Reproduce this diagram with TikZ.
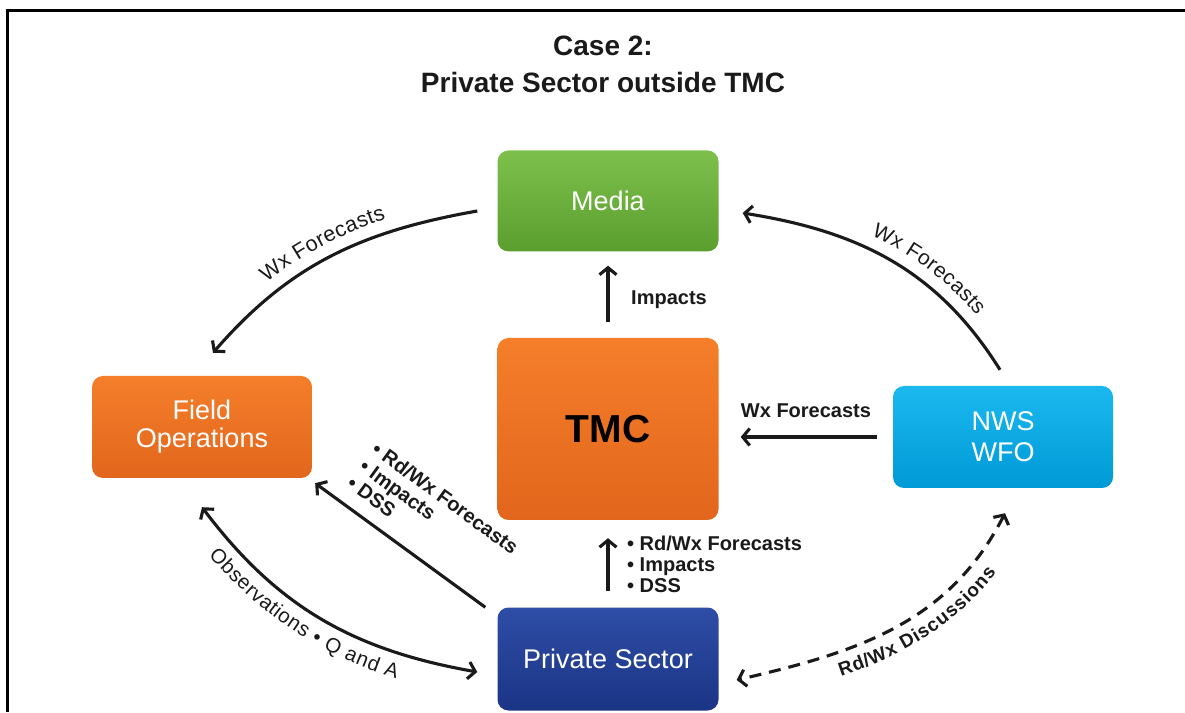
\documentclass[tikz,border=0pt]{standalone}
\usepackage{fontspec}
\setmainfont{Liberation Sans}
\usetikzlibrary{arrows.meta,calc,decorations.text}
\definecolor{grnT}{HTML}{7DC04C}
\definecolor{grnB}{HTML}{5A9E2E}
\definecolor{orgT}{HTML}{F47E2A}
\definecolor{orgB}{HTML}{E2661C}
\definecolor{cyaT}{HTML}{1BB8F0}
\definecolor{cyaB}{HTML}{009AD6}
\definecolor{bluT}{HTML}{2E4DA6}
\definecolor{bluB}{HTML}{1B3585}
\definecolor{txt}{HTML}{1A1A1A}
\begin{document}
\begin{tikzpicture}[x=1pt,y=1pt,
  box/.style={rounded corners=11pt, minimum width=221pt, inner sep=0pt,
    text=white, align=center, font=\fontsize{27}{29}\selectfont},
  tip/.tip={Straight Barb[length=7pt,width=17pt]},
  arr/.style={line width=3.1pt, draw=txt, -tip},
  dbl/.style={line width=3.1pt, draw=txt, tip-tip},
  lbl/.style={text=txt, font=\bfseries\fontsize{20}{21}\selectfont, inner sep=0pt},
  ttl/.style={text=txt, font=\bfseries\fontsize{28}{30}\selectfont},
  curvtxt/.style={decorate, decoration={text along path, text color=txt, #1}}]
\useasboundingbox (0,0) rectangle (1185,712);
\fill[white] (0,0) rectangle (1185,712);
\draw[line width=3pt] (7,0) -- (7,701) -- (1185,701);

% title
\node[ttl] (t1) at (603,666) {Case 2:};
\node[ttl] (t2) at (603,629) {Private Sector outside TMC};

% boxes
\node[box, minimum height=101pt, top color=grnT, bottom color=grnB] (media) at (608,511) {Media};
\node[box, minimum height=182pt, top color=orgT, bottom color=orgB, text=black,
      font=\bfseries\fontsize{39}{41}\selectfont] (tmc) at (608,283) {TMC};
\node[box, minimum width=220pt, minimum height=102pt, top color=orgT, bottom color=orgB,
      font=\fontsize{27}{28}\selectfont] (field) at (202,285) {Field\\Operations};
\node[box, minimum width=220pt, minimum height=102pt, top color=cyaT, bottom color=cyaB,
      font=\fontsize{27}{31}\selectfont] (nws) at (1003,275) {NWS\\WFO};
\node[box, minimum height=103pt, top color=bluT, bottom color=bluB] (priv) at (608,53) {Private Sector};

% straight connectors
\draw[arr, shorten <=16pt, shorten >=14pt] (tmc.north) -- (media.south);
\node[lbl, anchor=west] (limp) at (631,412) {Impacts};

\draw[arr, shorten <=16pt, shorten >=22pt] (nws.west) -- (nws.west -| tmc.east);
\node[lbl] (lwx) at (806,301) {Wx Forecasts};

\draw[arr, shorten <=16pt, shorten >=18pt] (priv.north) -- (tmc.south);
\node[lbl, anchor=north west, align=left] (lpt) at (627,176)
  {• Rd/Wx Forecasts\\• Impacts\\• DSS};

\coordinate (pfs) at ($(priv.north west)+(-12,0)$);
\coordinate (pfe) at ($(field.south east)+(3,-5)$);
\draw[arr] (pfs) -- (pfe);
\node[lbl, rotate=-36, align=left] (lpf) at (433,197)
  {• Rd/Wx Forecasts\\• Impacts\\• DSS};

% curved connectors
\coordinate (mfs) at ($(media.west)+(-20,-10)$);
\coordinate (mfe) at ($(field.north)+(11,23)$);
\draw[arr] (mfs) to[out=190,in=49] (mfe);
\path[curvtxt={text={|\fontsize{21.5}{23}\selectfont|Wx Forecasts},
      text align={left, left indent=86pt}, raise=13pt}]
  (mfe) to[out=49,in=190] (mfs);

\coordinate (nms) at ($(nws.north)+(-3,16)$);
\coordinate (nme) at ($(media.east)+(24,-12)$);
\draw[arr] (nms) to[out=122,in=-9] (nme);
\path[curvtxt={text={|\fontsize{21}{23}\selectfont|Wx Forecasts},
      text align={left, left indent=128pt}, raise=13pt}]
  (nme) to[out=-9,in=122] (nms);

\coordinate (fps) at ($(field.south)+(0,-29)$);
\coordinate (fpe) at ($(priv.west)+(-20,-13)$);
\draw[dbl] (fps) to[out=-53,in=170] (fpe);
\path[curvtxt={text={|\fontsize{20.5}{22}\selectfont|Observations • Q and A},
      text align={left, left indent=40pt}, raise=-25pt}]
  (fps) to[out=-53,in=170] (fpe);

\coordinate (nps) at ($(nws.south)+(2,-25)$);
\coordinate (npe) at ($(priv.east)+(18,-21)$);
\draw[dbl, dash pattern=on 12pt off 8pt] (nps) to[out=-117,in=13] (npe);
\path[curvtxt={text={|\bfseries\fontsize{19}{21}\selectfont|Rd/Wx Discussions},
      text align={left, left indent=100pt}, raise=-24pt}]
  (npe) to[out=13,in=-117] (nps);
\end{tikzpicture}
\end{document}
